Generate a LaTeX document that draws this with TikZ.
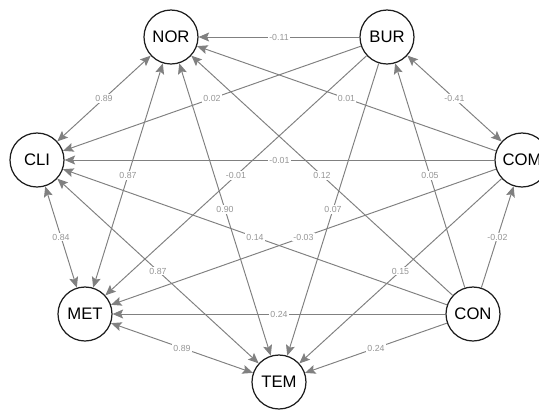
\documentclass[tikz,border=0pt]{standalone}
\usepackage{fontspec}
\setmainfont{Liberation Sans}
\usetikzlibrary{arrows.meta}
\definecolor{edgegray}{RGB}{128,128,128}
\definecolor{labelgray}{RGB}{150,150,150}
\definecolor{ink}{RGB}{30,30,30}
\tikzset{
  >={Stealth[length=2.1mm,width=1.8mm,inset=0.4mm]},
  var/.style={circle,draw=ink,line width=0.7pt,fill=white,minimum size=10.8mm,
    inner sep=0pt,font=\fontsize{9.5}{11}\selectfont},
  rel/.style={->,draw=edgegray,line width=0.55pt},
  both/.style={rel,<->},
  wt/.style={midway,font=\fontsize{5}{6}\selectfont,text=labelgray,fill=white,inner sep=0.6pt},
}

\begin{document}
\begin{tikzpicture}[x=0.02cm,y=-0.02cm]
  \useasboundingbox (0,0) rectangle (539,410);
  \clip (0,0) rectangle (539,410);
  % variables on the ring
  \node[var] (NOR) at (171,37) {NOR};
  \node[var] (BUR) at (387,37) {BUR};
  \node[var] (CLI) at (37,160) {CLI};
  \node[var] (COM) at (522,160) {COM};
  \node[var] (MET) at (85,314) {MET};
  \node[var] (CON) at (473,314) {CON};
  \node[var] (TEM) at (279,382) {TEM};
  % weighted links
  \draw[both] (NOR) -- node[wt]{0.89} (CLI);
  \draw[rel] (BUR) -- node[wt]{-0.11} (NOR);
  \draw[rel] (BUR) -- node[wt]{0.02} (CLI);
  \draw[rel] (COM) -- node[wt]{0.01} (NOR);
  \draw[both] (BUR) -- node[wt]{-0.41} (COM);
  \draw[rel] (COM) -- node[wt]{-0.01} (CLI);
  \draw[rel] (BUR) -- node[wt]{-0.01} (MET);
  \draw[both] (NOR) -- node[wt]{0.87} (MET);
  \draw[both] (NOR) -- node[wt]{0.90} (TEM);
  \draw[both] (CLI) -- node[wt]{0.84} (MET);
  \draw[both] (CLI) -- node[wt]{0.87} (TEM);
  \draw[rel] (CON) -- node[wt]{0.14} (CLI);
  \draw[rel] (CON) -- node[wt]{0.12} (NOR);
  \draw[rel] (CON) -- node[wt]{0.05} (BUR);
  \draw[rel] (COM) -- node[wt]{-0.03} (MET);
  \draw[rel] (BUR) -- node[wt]{0.07} (TEM);
  \draw[rel] (COM) -- node[wt]{0.15} (TEM);
  \draw[rel] (CON) -- node[wt]{-0.02} (COM);
  \draw[rel] (CON) -- node[wt]{0.24} (MET);
  \draw[rel] (CON) -- node[wt]{0.24} (TEM);
  \draw[both] (MET) -- node[wt]{0.89} (TEM);
\end{tikzpicture}
\end{document}
